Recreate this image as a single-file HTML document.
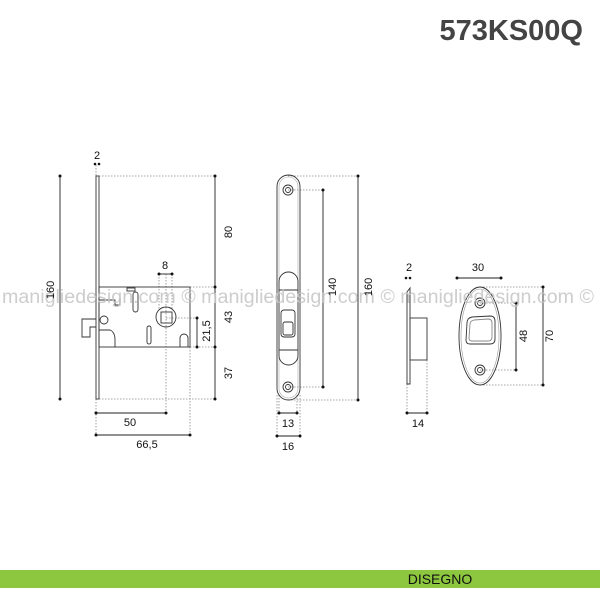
<!DOCTYPE html>
<html><head><meta charset="utf-8"><style>
html,body{margin:0;padding:0;background:#fff;width:600px;height:600px;overflow:hidden}
svg{display:block}
text{font-family:"Liberation Sans",sans-serif}
</style></head><body>
<svg width="600" height="600" viewBox="0 0 600 600" xmlns="http://www.w3.org/2000/svg">
<text x="583" y="40" text-anchor="end" font-size="29" font-weight="bold" fill="#444">573KS00Q</text>
<rect x="0" y="570" width="600" height="18" fill="#8dc63f"/>
<text x="440" y="584" text-anchor="middle" font-size="14" fill="#111">DISEGNO</text>

<g stroke="#888" stroke-width="0.8" stroke-dasharray="1.5,1.5" fill="none">
<line x1="99" y1="176" x2="215" y2="176"/><line x1="99" y1="399" x2="215" y2="399"/>
<line x1="190" y1="287" x2="215" y2="287"/><line x1="190" y1="347" x2="215" y2="347"/>
<line x1="166" y1="318" x2="197" y2="318"/>
<line x1="166" y1="274" x2="166" y2="413"/><line x1="159" y1="274" x2="159" y2="310"/><line x1="172" y1="274" x2="172" y2="310"/>
<line x1="96" y1="399" x2="96" y2="435"/><line x1="190" y1="347" x2="190" y2="435"/>
<line x1="96" y1="165" x2="96" y2="176"/>
<line x1="288" y1="176" x2="358" y2="176"/><line x1="288" y1="400" x2="358" y2="400"/>
<line x1="288" y1="190" x2="323" y2="190"/><line x1="288" y1="387" x2="323" y2="387"/>
<line x1="277" y1="395" x2="277" y2="436"/><line x1="300" y1="395" x2="300" y2="436"/>
<line x1="279" y1="395" x2="279" y2="413"/><line x1="297" y1="395" x2="297" y2="413"/>
<line x1="407" y1="384" x2="407" y2="413"/><line x1="427" y1="360" x2="427" y2="413"/>
<line x1="480" y1="287" x2="543" y2="287"/><line x1="480" y1="385" x2="543" y2="385"/>
<line x1="480" y1="303" x2="516" y2="303"/><line x1="480" y1="370" x2="516" y2="370"/>
</g>

<g stroke="#222" stroke-width="0.9" fill="none">
<line x1="60" y1="176" x2="60" y2="399"/>
<line x1="215" y1="176" x2="215" y2="399"/>
<line x1="159" y1="274" x2="172" y2="274"/>
<line x1="197" y1="318" x2="197" y2="347"/>
<line x1="96" y1="413" x2="166" y2="413"/>
<line x1="96" y1="435" x2="190" y2="435"/>
<line x1="323" y1="190" x2="323" y2="387"/>
<line x1="358" y1="176" x2="358" y2="400"/>
<line x1="279" y1="413" x2="297" y2="413"/>
<line x1="277" y1="436" x2="300" y2="436"/>
<line x1="407" y1="413" x2="427" y2="413"/>
<line x1="457" y1="278" x2="501" y2="278"/>
<line x1="516" y1="303" x2="516" y2="370"/>
<line x1="543" y1="287" x2="543" y2="385"/>
</g>
<g fill="#111">
<circle cx="95" cy="164" r="1.3"/><circle cx="99" cy="164" r="1.3"/>
<circle cx="60" cy="176" r="1.5"/><circle cx="60" cy="399" r="1.5"/>
<circle cx="215" cy="176" r="1.5"/><circle cx="215" cy="287" r="1.5"/><circle cx="215" cy="347" r="1.5"/><circle cx="215" cy="399" r="1.5"/>
<circle cx="159" cy="274" r="1.5"/><circle cx="172" cy="274" r="1.5"/>
<circle cx="197" cy="318" r="1.5"/><circle cx="197" cy="347" r="1.5"/>
<circle cx="96" cy="413" r="1.5"/><circle cx="166" cy="413" r="1.5"/>
<circle cx="96" cy="435" r="1.5"/><circle cx="190" cy="435" r="1.5"/>
<circle cx="323" cy="190" r="1.5"/><circle cx="323" cy="387" r="1.5"/>
<circle cx="358" cy="176" r="1.5"/><circle cx="358" cy="400" r="1.5"/>
<circle cx="279" cy="413" r="1.5"/><circle cx="297" cy="413" r="1.5"/>
<circle cx="277" cy="436" r="1.5"/><circle cx="300" cy="436" r="1.5"/>
<circle cx="406" cy="278" r="1.3"/><circle cx="410" cy="278" r="1.3"/>
<circle cx="407" cy="413" r="1.5"/><circle cx="427" cy="413" r="1.5"/>
<circle cx="457" cy="278" r="1.5"/><circle cx="501" cy="278" r="1.5"/>
<circle cx="516" cy="303" r="1.5"/><circle cx="516" cy="370" r="1.5"/>
<circle cx="543" cy="287" r="1.5"/><circle cx="543" cy="385" r="1.5"/>
</g>

<g stroke="#333" stroke-width="0.9" fill="none">
<rect x="96" y="176" width="3" height="223"/>
<rect x="99" y="287" width="91" height="60"/>
<path d="M96 319 H82 V337 H90 V327 H96"/>
<circle cx="166" cy="317" r="10"/>
<rect x="161" y="312" width="11" height="11"/>
<rect x="127" y="288" width="8" height="3" />
<rect x="133" y="292" width="5" height="20" rx="2.5"/>
<rect x="147" y="326" width="4" height="18" rx="2"/>
<path d="M99 300 H115 V305 H120 V298 M99 330 H110 Q115 332 115 340 V347"/>
<circle cx="104" cy="320" r="4"/>
<path d="M180 347 V338 A4 4 0 0 1 188 338 V347"/>
</g>

<g stroke="#333" stroke-width="0.9" fill="none">
<rect x="277" y="175" width="23" height="225" rx="11.5"/>
<rect x="279" y="177" width="19" height="221" rx="9.5" stroke="#aaa" stroke-width="0.6"/>
<circle cx="288" cy="190" r="5"/><circle cx="288" cy="190" r="2.5"/>
<circle cx="288" cy="387" r="5"/><circle cx="288" cy="387" r="2.5"/>
<rect x="279" y="272" width="19" height="93" rx="9.5"/>
<line x1="279" y1="290" x2="298" y2="290"/><line x1="279" y1="350" x2="298" y2="350"/>
<rect x="281" y="310" width="14" height="27" rx="3"/>
<rect x="283" y="322" width="10" height="13" rx="2"/>
</g>

<g stroke="#333" stroke-width="0.9" fill="none">
<path d="M407 384 V292 L410 288 V384 Z"/>
<rect x="410" y="318" width="17" height="42"/>
</g>
<g stroke="#333" stroke-width="0.9" fill="none">
<ellipse cx="480" cy="336" rx="21" ry="49"/>
<ellipse cx="480" cy="336" rx="19" ry="47" stroke="#999" stroke-width="0.6"/>
<circle cx="480" cy="303" r="5"/><circle cx="480" cy="303" r="2.5"/>
<circle cx="480" cy="370" r="5"/><circle cx="480" cy="370" r="2.5"/>
<path d="M467 323 Q467 318 472 317 L490 316 Q495 316 495 321 L495 339 Q495 344 490 344 H470 Q466 344 466 340 Z"/>
<path d="M470 324 Q470 321 474 320 L488 319 Q492 319 492 323 L492 337 Q492 341 488 341 H472 Q469 341 469 338 Z" stroke="#888"/>
</g>

<text x="2" y="303" font-size="19" fill="#c4c4c4" fill-opacity="0.85" textLength="592" lengthAdjust="spacingAndGlyphs">manigliedesign.com © manigliedesign.com © manigliedesign.com ©</text>

<g font-size="11" fill="#111" text-anchor="middle">
<text x="97" y="159">2</text>
<text x="165" y="269">8</text>
<text x="130" y="426">50</text>
<text x="147" y="448">66,5</text>
<text x="288" y="427">13</text>
<text x="288" y="450">16</text>
<text x="409" y="271">2</text>
<text x="418" y="427">14</text>
<text x="478" y="271">30</text>
<text transform="translate(54,290) rotate(-90)">160</text>
<text transform="translate(232,232) rotate(-90)">80</text>
<text transform="translate(232,317) rotate(-90)">43</text>
<text transform="translate(232,373) rotate(-90)">37</text>
<text transform="translate(210,331) rotate(-90)">21,5</text>
<text transform="translate(336,287) rotate(-90)">140</text>
<text transform="translate(372,287) rotate(-90)">160</text>
<text transform="translate(527,336) rotate(-90)">48</text>
<text transform="translate(553,336) rotate(-90)">70</text>
</g>
</svg>
</body></html>
